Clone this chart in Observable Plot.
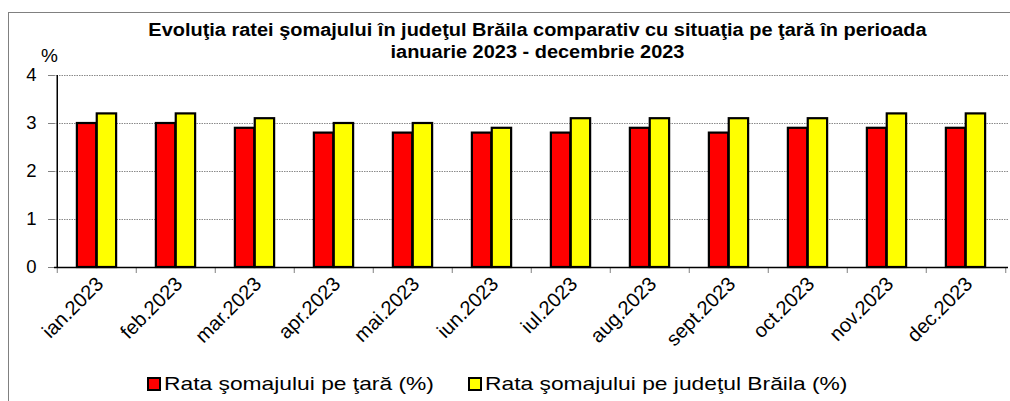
<!DOCTYPE html>
<html>
<head>
<meta charset="utf-8">
<script src="https://cdn.jsdelivr.net/npm/d3@7"></script>
<script src="https://cdn.jsdelivr.net/npm/@observablehq/plot@0.6"></script>
<style>
  body { margin: 0; background: #fff; font-family: "Liberation Sans", Arial, sans-serif; }
  #wrap { position: relative; width: 1010px; height: 401px; overflow: hidden; background: #fff; }
  #chart { position: absolute; left: 0; top: 0; }
  #frame { position: absolute; left: 8px; top: 12px; width: 1100px; height: 500px;
           border-left: 1.5px solid #808080; border-top: 1.5px solid #808080; pointer-events: none; }
  #title { position: absolute; left: 0; top: 19px; width: 1075px; text-align: center;
           font-weight: bold; font-size: 17.5px; line-height: 22px; color: #000;
           transform: scaleX(1.14); }
  #ylabel { position: absolute; left: 41px; top: 45px; font-size: 19px; color: #000; }
  .leg { position: absolute; top: 373px; display: flex; align-items: center; white-space: nowrap; }
  .sw { width: 10px; height: 10px; border: 2px solid #000; margin-right: 3px; }
  .lt { font-size: 19px; color: #000; display: inline-block; transform: scaleX(1.2); transform-origin: left center; }
</style>
</head>
<body>
<div id="wrap">
  <div id="chart"></div>
  <div id="frame"></div>
  <div id="title">Evoluţia ratei şomajului în judeţul Brăila comparativ cu situaţia pe ţară în perioada<br>ianuarie 2023 - decembrie 2023</div>
  <div id="ylabel">%</div>
  <div id="legend"></div>
</div>
<script>
const months = ["ian.2023", "feb.2023", "mar.2023", "apr.2023", "mai.2023", "iun.2023",
                "iul.2023", "aug.2023", "sept.2023", "oct.2023", "nov.2023", "dec.2023"];
const rataTara = [3.0, 3.0, 2.9, 2.8, 2.8, 2.8, 2.8, 2.9, 2.8, 2.9, 2.9, 2.9];
const rataBraila = [3.2, 3.2, 3.1, 3.0, 3.0, 2.9, 3.1, 3.1, 3.1, 3.1, 3.2, 3.2];
const yTicks = [0, 1, 2, 3, 4];
const gridTicks = [1, 2, 3, 4];
const seriesNames = ["Rata şomajului pe ţară (%)", "Rata şomajului pe judeţul Brăila (%)"];
const seriesColors = ["#ff0000", "#ffff00"];

const rows = months.map((m, i) => ({month: m, tara: rataTara[i], braila: rataBraila[i]}));

const W = 1010, H = 401, mL = 54, mR = 2, mT = 75, mB = 134;
const band = (W - mL - mR) / months.length;

const chart = Plot.plot({
  width: W, height: H,
  marginLeft: mL, marginRight: mR, marginTop: mT, marginBottom: mB,
  style: {background: "transparent", fontFamily: "Liberation Sans, Arial, sans-serif", color: "#000"},
  x: {domain: months, padding: 0, axis: null},
  y: {domain: [0, 4], axis: null},
  marks: [
    Plot.ruleY(gridTicks, {stroke: "#8a8a8a", strokeWidth: 1.2, strokeDasharray: "1.5,1"}),
    Plot.axisY({ticks: yTicks, tickSize: 6, tickPadding: 12, fontSize: 18.5, stroke: "#808080", fill: "#000", label: null, tickFormat: d => String(d)}),
    Plot.barY(rows, {x: "month", y: "tara", fill: seriesColors[0], stroke: "#000", strokeWidth: 2.2,
                     insetLeft: band / 4, insetRight: band / 2}),
    Plot.barY(rows, {x: "month", y: "braila", fill: seriesColors[1], stroke: "#000", strokeWidth: 2.2,
                     insetLeft: band / 2, insetRight: band / 4}),
    Plot.axisX({tickSize: 6, tickFormat: () => "", dx: -band / 2, stroke: "#808080", label: null}),
    Plot.axisX([months[months.length - 1]], {tickSize: 6, tickFormat: () => "", dx: band / 2, stroke: "#808080", label: null}),
    Plot.ruleY([0], {stroke: "#000", strokeWidth: 1.5}),
    Plot.ruleX([months[0]], {dx: -band / 2, y1: 0, y2: 4, stroke: "#000", strokeWidth: 1.5}),
    Plot.axisX({tickSize: 0, tickRotate: -45, tickPadding: 13, dx: 3, fontSize: 20, fill: "#000", label: null})
  ]
});
document.getElementById("chart").appendChild(chart);

const legend = document.getElementById("legend");
const legX = [147, 468];
seriesNames.forEach((name, i) => {
  const item = document.createElement("div");
  item.className = "leg";
  item.style.left = legX[i] + "px";
  const sw = document.createElement("div");
  sw.className = "sw";
  sw.style.background = seriesColors[i];
  const t = document.createElement("span");
  t.className = "lt";
  t.textContent = name;
  item.appendChild(sw);
  item.appendChild(t);
  legend.appendChild(item);
});
</script>
</body>
</html>
